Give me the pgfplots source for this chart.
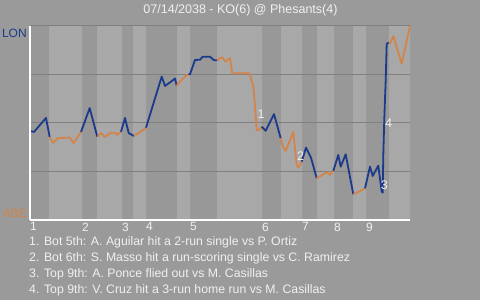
\documentclass[border=0pt]{standalone}
\usepackage{fontspec}
\setmainfont{Liberation Sans}
\usepackage{pgfplots}
\pgfplotsset{compat=1.18}
\definecolor{bg}{HTML}{9A9A9A}
\definecolor{banddark}{HTML}{989898}
\definecolor{bandlight}{HTML}{A8A8A8}
\definecolor{gridc}{HTML}{808080}
\definecolor{lonblue}{HTML}{1B3A8C}
\definecolor{abeorange}{HTML}{D2844A}
\definecolor{txt}{HTML}{F0F0F0}
\begin{document}
\begin{tikzpicture}[x=1pt,y=1pt]
\fill[bg] (0,0) rectangle (480,300);
\begin{axis}[
  at={(30pt,80pt)}, anchor=south west,
  scale only axis, width=380pt, height=194pt,
  xmin=30, xmax=410, ymin=0, ymax=1,
  axis background/.style={fill=banddark},
  axis x line*=bottom, axis y line*=left,
  axis line style={white, line width=1.5pt},
  axis on top,
  clip=false,
  unbounded coords=jump,
  ytick=\empty,
  xtick={30,82,122,146,190,262,302,334,366},
  xticklabels={1,2,3,4,5,6,7,8,9},
  major tick length=0pt,
  xticklabel style={anchor=north west, inner sep=0pt, yshift=-2.5pt, text=txt, font=\fontsize{12}{14}\selectfont},
  every axis plot/.append style={line join=round},
]
% light half-inning bands
\addplot[ybar interval, fill=bandlight, draw=none] coordinates {
(30,0)(49,1)(82,0)(97,1)(122,0)(133,1)(146,0)(177,1)(190,0)(217,1)(262,0)(281,1)(302,0)(317,1)(334,0)(353,1)(366,0)(389,1)(410,0)};
% grid lines
\addplot[gridc, line width=1pt] coordinates {
(30,0.25)(410,0.25)(30,nan)(30,0.5)(410,0.5)(30,nan)(30,0.75)(410,0.75)(30,nan)(30,1)(410,1)};
% win probability
\addplot[lonblue, line width=1.8pt] coordinates {(30,0.459)(34,0.454)(46,0.526)(49.7,0.428)};
\addplot[abeorange, line width=1.8pt] coordinates {(49.7,0.428)(53,0.398)(58,0.423)(69.7,0.424)(73.7,0.397)(81,0.454)};
\addplot[lonblue, line width=1.8pt] coordinates {(81,0.454)(89.7,0.577)(97.3,0.429)};
\addplot[abeorange, line width=1.8pt] coordinates {(97.3,0.429)(101,0.448)(105,0.428)(110.7,0.450)(115,0.450)(117,0.438)(121,0.455)};
\addplot[lonblue, line width=1.8pt] coordinates {(121,0.455)(125,0.526)(128.7,0.448)(134,0.433)};
\addplot[abeorange, line width=1.8pt] coordinates {(134,0.433)(144.7,0.469)(146,0.476)};
\addplot[lonblue, line width=1.8pt] coordinates {(146,0.476)(161.7,0.739)(165,0.691)(173.3,0.722)(175,0.730)(176.7,0.692)};
\addplot[abeorange, line width=1.8pt] coordinates {(176.7,0.692)(180,0.713)(185,0.739)(188.3,0.751)};
\addplot[lonblue, line width=1.8pt] coordinates {(188.3,0.751)(190,0.751)(195,0.825)(200,0.826)(202.7,0.842)(210,0.842)(214,0.823)(217.3,0.823)};
\addplot[abeorange, line width=1.8pt] coordinates {(217.3,0.823)(220,0.834)(222.3,0.839)(225.3,0.816)(230,0.834)(232.3,0.756)(249.3,0.756)(253.3,0.692)(255,0.584)(256.7,0.464)(259.3,0.464)(261.7,0.481)};
\addplot[lonblue, line width=1.8pt] coordinates {(261.7,0.481)(265.7,0.460)(274,0.546)(280.7,0.421)};
\addplot[abeorange, line width=1.8pt] coordinates {(280.7,0.421)(283.3,0.373)(285.7,0.356)(293.3,0.455)(296.7,0.284)(298.3,0.270)(301.7,0.301)};
\addplot[lonblue, line width=1.8pt] coordinates {(301.7,0.301)(306,0.373)(311,0.321)(316.7,0.215)};
\addplot[abeorange, line width=1.8pt] coordinates {(316.7,0.215)(326.7,0.246)(330,0.232)(333.3,0.253)};
\addplot[lonblue, line width=1.8pt] coordinates {(333.3,0.253)(338.3,0.335)(340.7,0.275)(345.7,0.339)(353.3,0.132)};
\addplot[abeorange, line width=1.8pt] coordinates {(353.3,0.132)(365,0.163)};
\addplot[lonblue, line width=1.8pt] coordinates {(365,0.163)(370,0.275)(372.7,0.227)(378.3,0.280)(381.7,0.146)(382.7,0.141)(383.3,0.335)(384.3,0.522)(385.7,0.720)(386.7,0.909)(389,0.914)};
\addplot[abeorange, line width=1.8pt] coordinates {(389,0.914)(390,0.909)(393.3,0.948)(401.7,0.806)(410,1.0)};
% event markers
\node[text=txt, inner sep=0pt, font=\fontsize{12.5}{14}\selectfont] at (axis cs:261,0.546) {1};
\node[text=txt, inner sep=0pt, font=\fontsize{12.5}{14}\selectfont] at (axis cs:300.7,0.330) {2};
\node[text=txt, inner sep=0pt, font=\fontsize{12.5}{14}\selectfont] at (axis cs:384.3,0.177) {3};
\node[text=txt, inner sep=0pt, font=\fontsize{12.5}{14}\selectfont] at (axis cs:388.7,0.498) {4};
\end{axis}
\node[anchor=base, text=txt, inner sep=0pt, font=\fontsize{12.5}{14}\selectfont] at (240.5,286.7) {07/14/2038 - KO(6) @ Phesants(4)};
\node[anchor=base west, text=lonblue, inner sep=0pt, font=\fontsize{12}{14}\selectfont] at (1.8,262.7) {LON};
\node[anchor=base west, text=abeorange, inner sep=0pt, font=\fontsize{12}{14}\selectfont] at (2.5,82.7) {ABE};
\begin{scope}[every node/.style={anchor=base west, text=txt, inner sep=0pt, font=\fontsize{12.3}{14}\selectfont}]
\node at (29,54.7) {1. Bot 5th: A. Aguilar hit a 2-run single vs P. Ortiz};
\node at (29,38.0) {2. Bot 6th: S. Masso hit a run-scoring single vs C. Ramirez};
\node at (29,22.4) {3. Top 9th: A. Ponce flied out vs M. Casillas};
\node at (29,6.7) {4. Top 9th: V. Cruz hit a 3-run home run vs M. Casillas};
\end{scope}
\end{tikzpicture}
\end{document}
